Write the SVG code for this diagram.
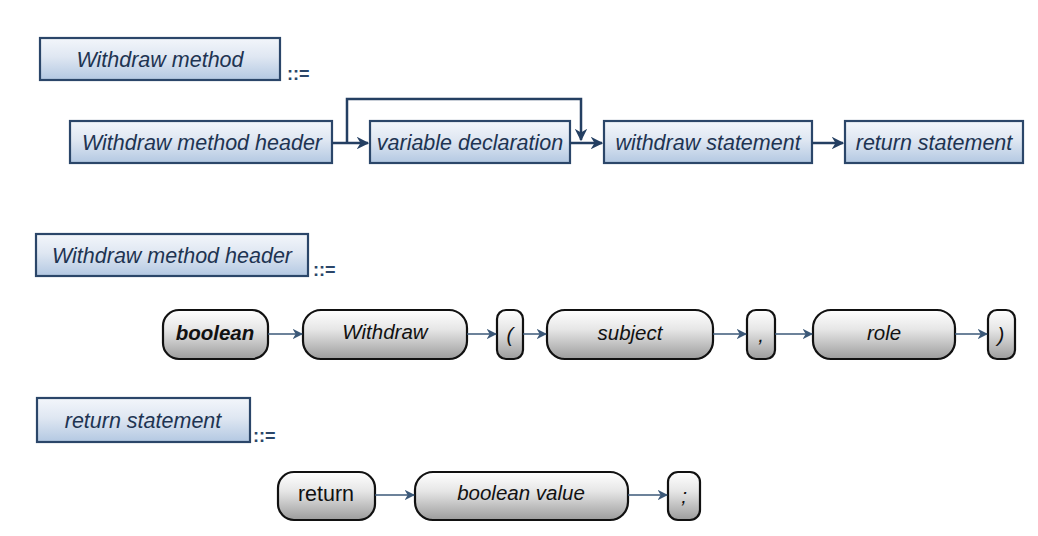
<svg xmlns="http://www.w3.org/2000/svg" width="1038" height="536" viewBox="0 0 1038 536">
  <defs>
    <linearGradient id="blueFill" x1="0" y1="0" x2="0" y2="1">
      <stop offset="0" stop-color="#f3f6fb"/>
      <stop offset="0.45" stop-color="#dfe7f2"/>
      <stop offset="1" stop-color="#b3c8e2"/>
    </linearGradient>
    <linearGradient id="greyFill" x1="0" y1="0" x2="0" y2="1">
      <stop offset="0" stop-color="#ffffff"/>
      <stop offset="0.4" stop-color="#e6e6e6"/>
      <stop offset="1" stop-color="#9c9c9c"/>
    </linearGradient>
    <marker id="arrowDark" viewBox="0 0 10 10" refX="9" refY="5" markerWidth="5" markerHeight="5" orient="auto" markerUnits="strokeWidth">
      <path d="M0,0 L10,5 L0,10 L3,5 Z" fill="#243f62"/>
    </marker>
    <marker id="arrowThin" viewBox="0 0 10 10" refX="9" refY="5" markerWidth="7" markerHeight="7" orient="auto" markerUnits="strokeWidth">
      <path d="M0,0 L10,5 L0,10 L3,5 Z" fill="#3b5878"/>
    </marker>
    <style>
      .rbox { fill: url(#blueFill); stroke: #2b4669; stroke-width: 2.2; }
      .pill { fill: url(#greyFill); stroke: #111; stroke-width: 2.2; }
      .lbl { font-family: "Liberation Sans", Arial, sans-serif; font-style: italic; font-size: 21.5px; fill: #1e3452; text-anchor: middle; }
      .plbl { font-family: "Liberation Sans", Arial, sans-serif; font-style: italic; font-size: 20.5px; fill: #111; text-anchor: middle; }
      .upright { font-style: normal; font-size: 21.5px; }
      .def { font-family: "Liberation Sans", Arial, sans-serif; font-size: 18px; font-weight: bold; fill: #2b4669; }
      .cDark { fill: none; stroke: #243f62; stroke-width: 2.5; }
      .cThin { fill: none; stroke: #3b5878; stroke-width: 1.5; }
    </style>
  </defs>

  <!-- Withdraw method ::= -->
  <g id="def-withdraw-method">
    <rect class="rbox" x="40" y="38" width="240" height="42"/>
    <text class="lbl" x="160" y="67">Withdraw method</text>
    <text class="def" x="287" y="80">::=</text>
  </g>
  <g id="n-header">
    <rect class="rbox" x="70" y="121" width="262" height="42"/>
    <text class="lbl" x="202" y="150">Withdraw method header</text>
  </g>
  <g id="n-vardecl">
    <rect class="rbox" x="370" y="121" width="200" height="42"/>
    <text class="lbl" x="470" y="150">variable declaration</text>
  </g>
  <g id="n-withdrawstmt">
    <rect class="rbox" x="604" y="121" width="208" height="42"/>
    <text class="lbl" x="708" y="150">withdraw statement</text>
  </g>
  <g id="n-returnstmt">
    <rect class="rbox" x="845" y="121" width="178" height="42"/>
    <text class="lbl" x="934" y="150">return statement</text>
  </g>

  <!-- Withdraw method header ::= -->
  <g id="def-header">
    <rect class="rbox" x="36" y="234" width="272" height="42"/>
    <text class="lbl" x="172" y="263">Withdraw method header</text>
    <text class="def" x="313" y="276">::=</text>
  </g>
  <g id="t-boolean">
    <rect class="pill" x="163" y="310" width="105" height="49" rx="16"/>
    <text class="plbl" x="215" y="340" font-weight="bold" font-size="19.5">boolean</text>
  </g>
  <g id="t-withdraw">
    <rect class="pill" x="303" y="310" width="164" height="49" rx="18"/>
    <text class="plbl" x="385" y="339">Withdraw</text>
  </g>
  <g id="t-lparen">
    <rect class="pill" x="497" y="310" width="26" height="49" rx="9"/>
    <text class="plbl" x="510" y="342">(</text>
  </g>
  <g id="t-subject">
    <rect class="pill" x="547" y="310" width="166" height="49" rx="18"/>
    <text class="plbl" x="630" y="340">subject</text>
  </g>
  <g id="t-comma">
    <rect class="pill" x="747" y="310" width="28" height="49" rx="9"/>
    <text class="plbl" x="761" y="342">,</text>
  </g>
  <g id="t-role">
    <rect class="pill" x="813" y="310" width="142" height="49" rx="18"/>
    <text class="plbl" x="884" y="340">role</text>
  </g>
  <g id="t-rparen">
    <rect class="pill" x="988" y="310" width="27" height="49" rx="9"/>
    <text class="plbl" x="1001" y="342">)</text>
  </g>

  <!-- return statement ::= -->
  <g id="def-return">
    <rect class="rbox" x="37" y="398" width="213" height="44"/>
    <text class="lbl" x="143" y="428">return statement</text>
    <text class="def" x="253" y="442">::=</text>
  </g>
  <g id="t-return">
    <rect class="pill" x="278" y="472" width="97" height="48" rx="16"/>
    <text class="plbl upright" x="326" y="501">return</text>
  </g>
  <g id="t-boolvalue">
    <rect class="pill" x="415" y="472" width="213" height="48" rx="18"/>
    <text class="plbl" x="521" y="500">boolean value</text>
  </g>
  <g id="t-semicolon">
    <rect class="pill" x="668" y="472" width="32" height="48" rx="10"/>
    <text class="plbl" x="684" y="503">;</text>
  </g>

  <g id="connectors">
    <!-- first rule -->
    <path class="cDark" d="M332,143 H368" marker-end="url(#arrowDark)"/>
    <path class="cDark" d="M347,143 V99 H581 V140" marker-end="url(#arrowDark)"/>
    <path class="cDark" d="M570,143 H602" marker-end="url(#arrowDark)"/>
    <path class="cDark" d="M812,143 H843" marker-end="url(#arrowDark)"/>
    <!-- header rule -->
    <path class="cThin" d="M268,334 H302" marker-end="url(#arrowThin)"/>
    <path class="cThin" d="M467,334 H496" marker-end="url(#arrowThin)"/>
    <path class="cThin" d="M523,334 H546" marker-end="url(#arrowThin)"/>
    <path class="cThin" d="M713,334 H746" stroke-width="1" marker-end="url(#arrowThin)"/>
    <path class="cThin" d="M775,334 H812" marker-end="url(#arrowThin)"/>
    <path class="cThin" d="M955,334 H987" stroke-width="2.2" marker-end="url(#arrowThin)"/>
    <!-- return rule -->
    <path class="cThin" d="M375,495 H414" marker-end="url(#arrowThin)"/>
    <path class="cThin" d="M628,495 H667" stroke-width="2" marker-end="url(#arrowThin)"/>
  </g>
</svg>
